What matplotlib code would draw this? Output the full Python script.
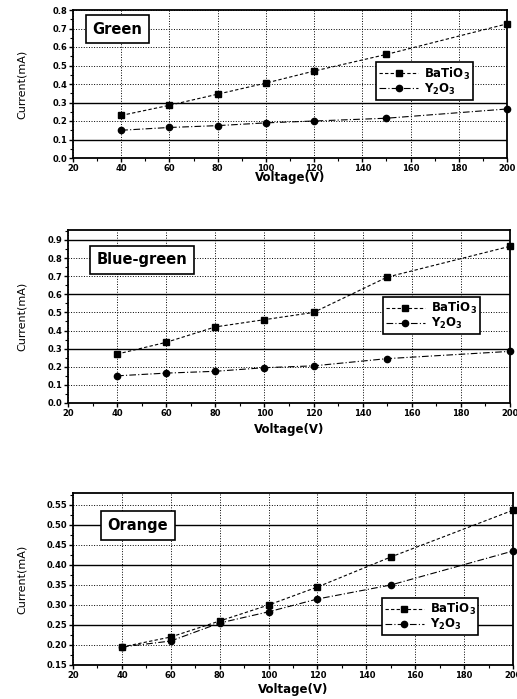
import numpy as np
import matplotlib
matplotlib.use("Agg")
import matplotlib.pyplot as plt

plt.rcParams['font.family'] = ['DejaVu Sans']
plt.rcParams['font.weight'] = 'bold'
plt.rcParams['mathtext.default'] = 'bf'

voltage = [40, 60, 80, 100, 120, 150, 200]

# Green
green_batio3 = [0.23, 0.285, 0.345, 0.405, 0.47, 0.56, 0.725]
green_y2o3 = [0.15, 0.165, 0.175, 0.19, 0.20, 0.215, 0.265]
# Blue-green
bg_batio3 = [0.27, 0.335, 0.42, 0.46, 0.50, 0.695, 0.865]
bg_y2o3 = [0.15, 0.165, 0.175, 0.195, 0.205, 0.245, 0.285]
# Orange
orange_batio3 = [0.195, 0.22, 0.26, 0.30, 0.345, 0.42, 0.537]
orange_y2o3 = [0.195, 0.21, 0.255, 0.283, 0.315, 0.35, 0.435]

W, H = 517, 699
fig = plt.figure(figsize=(W / 100, H / 100), dpi=100)


def make_axes(left, right, top, bottom):
    return fig.add_axes([left / W, 1 - bottom / H, (right - left) / W, (bottom - top) / H])


panels = [
    # name, bat, y2o3, box px, ylim, yticks, fmt, solid lines, xlabel y, name pos, legend anchor
    ("Green", green_batio3, green_y2o3, (73, 507, 10, 158), (0, 0.8),
     np.arange(0, 0.81, 0.1), "%.1f", [0.1, 0.3], 178, (0.045, 0.92), (0.935, 0.52)),
    ("Blue-green", bg_batio3, bg_y2o3, (68, 510, 230, 403), (0, 0.955),
     np.arange(0, 0.91, 0.1), "%.1f", [0.3, 0.6, 0.9], 429, (0.065, 0.87), (0.945, 0.505)),
    ("Orange", orange_batio3, orange_y2o3, (73, 513, 493, 665), (0.15, 0.58),
     np.arange(0.15, 0.56, 0.05), "%.2f", [0.25, 0.40, 0.50], 690, (0.078, 0.855), (0.935, 0.28)),
]

for name, bat, yo, (l, r, t, b), ylim, yticks, fmt, solid, xly, npos, lpos in panels:
    ax = make_axes(l, r, t, b)
    ax.plot(voltage, bat, color='black', lw=0.8, ls=(0, (3, 2)),
            marker='s', ms=4.5, label='BaTiO$_3$', clip_on=False)
    ax.plot(voltage, yo, color='black', lw=0.8, ls=(0, (6, 2, 1, 2)),
            marker='o', ms=4.5, label='Y$_2$O$_3$', clip_on=False)
    for v in solid:
        ax.axhline(v, color='black', lw=1.0)
    ax.set_xlim(20, 200)
    ax.set_ylim(*ylim)
    ax.set_xticks(np.arange(20, 201, 20))
    ax.set_xticks(np.arange(30, 200, 20), minor=True)
    ax.set_yticks(yticks)
    step = yticks[1] - yticks[0]
    ax.set_yticks(np.arange(yticks[0] + step / 2, ylim[1], step), minor=True)
    ax.set_yticklabels([fmt % v for v in yticks])
    ax.grid(True, which='major', color='black', ls=':', lw=0.7)
    ax.tick_params(axis='both', which='major', direction='out', length=3,
                   width=1.0, labelsize=6, pad=1.2)
    ax.tick_params(axis='both', which='minor', direction='out', length=2, width=0.8)
    for s in ax.spines.values():
        s.set_linewidth(1.3)
    for lab in ax.get_xticklabels() + ax.get_yticklabels():
        lab.set_fontweight('bold')
    ax.text(npos[0], npos[1], name, transform=ax.transAxes, fontsize=10.5, fontweight='bold',
            va='top', ha='left',
            bbox=dict(boxstyle='square,pad=0.45', fc='white', ec='black', lw=1.2))
    leg = ax.legend(loc='center right', bbox_to_anchor=lpos,
                    frameon=True, fancybox=False, edgecolor='black', framealpha=1,
                    handlelength=3.3, borderpad=0.25, labelspacing=0.0,
                    handletextpad=0.5, prop={'weight': 'bold', 'size': 8.5})
    leg.get_frame().set_linewidth(1.2)
    fig.text((l + r) / 2 / W, 1 - xly / H, "Voltage(V)", ha='center', va='center',
             fontsize=8.5, fontweight='bold')
    fig.text(22 / W, 1 - (t + b) / 2 / H, "Current(mA)", ha='center', va='center',
             rotation=90, fontsize=8, fontweight='normal')

fig.savefig("out.png", dpi=100)
